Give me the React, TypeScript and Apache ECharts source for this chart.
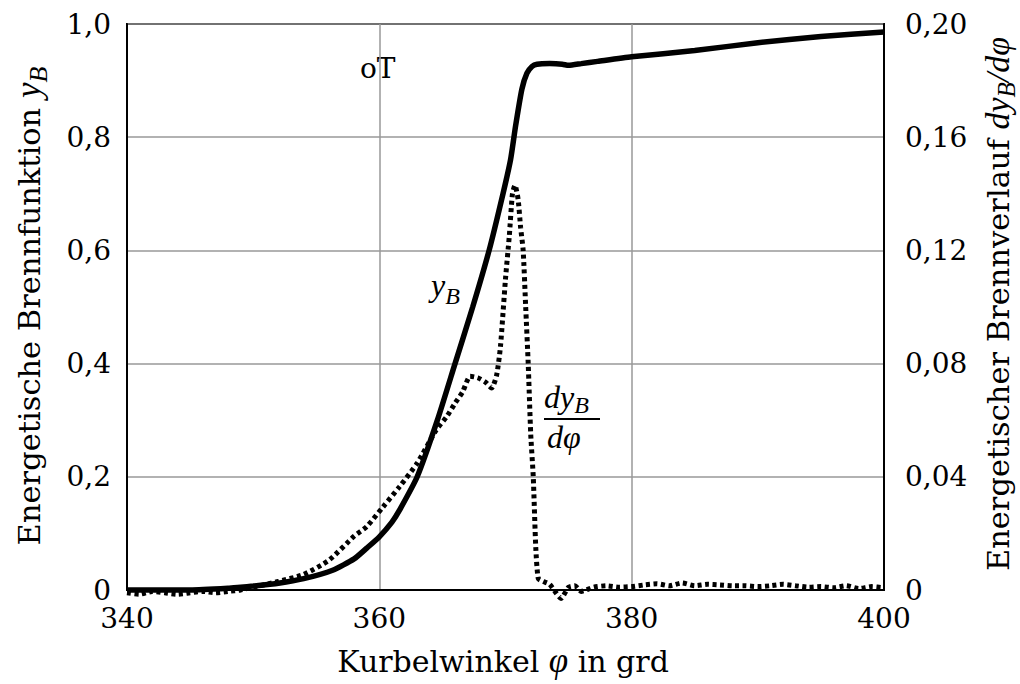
import React, { useEffect, useRef } from "react";
import * as echarts from "echarts";

// Energetische Brennfunktion y_B (left axis)
const phiB = [340, 345, 348, 349, 350, 352, 354, 356.3, 358, 359, 360, 361, 361.6, 363, 364.6, 366, 367.4, 368.7, 369.8, 370.4, 370.8, 371.3, 371.7, 372.1, 372.5, 373.5, 374.5, 375, 376, 377.3, 380, 385, 390, 395, 400];
const yB = [0.0, 0.0, 0.003, 0.005, 0.007, 0.012, 0.02, 0.035, 0.055, 0.074, 0.094, 0.12, 0.141, 0.2, 0.3, 0.4, 0.5, 0.6, 0.7, 0.76, 0.82, 0.885, 0.913, 0.925, 0.929, 0.93, 0.929, 0.927, 0.93, 0.934, 0.942, 0.953, 0.967, 0.978, 0.986];

// Energetischer Brennverlauf dy_B/dphi (right axis)
const phiD = [340, 341, 342, 343, 344, 345, 346, 347, 348, 349, 350, 352, 354, 356, 358, 359, 360.3, 361.6, 363, 364.5, 365.3, 366, 366.6, 367.2, 367.8, 368.4, 368.9, 369.3, 369.6, 370.0, 370.3, 370.55, 370.75, 371.0, 371.2, 371.4, 371.6, 371.8, 372.0, 372.2, 372.4, 372.6, 373, 373.5, 374, 374.4, 375, 375.5, 376, 377, 378, 379, 380, 381, 382, 383, 384, 385, 386, 387, 388, 389, 390, 391, 392, 393, 394, 395, 396, 397, 398, 399, 400];
const dyB = [-0.001, -0.0015, -0.0005, -0.001, -0.0015, -0.001, -0.0005, -0.001, -0.0005, 0.0, 0.001, 0.003, 0.0055, 0.0105, 0.019, 0.0224, 0.0294, 0.0365, 0.0448, 0.0565, 0.061, 0.066, 0.07, 0.0755, 0.075, 0.0735, 0.0714, 0.076, 0.086, 0.11, 0.125, 0.14, 0.143, 0.138, 0.128, 0.12, 0.1, 0.08, 0.055, 0.04, 0.015, 0.004, 0.003, 0.002, -0.001, -0.003, 0.001, 0.0015, -0.0005, 0.001, 0.0015, 0.001, 0.0012, 0.0018, 0.0022, 0.0015, 0.0025, 0.0015, 0.002, 0.0018, 0.0015, 0.0015, 0.0012, 0.0015, 0.002, 0.0015, 0.001, 0.0012, 0.0008, 0.0015, 0.0005, 0.0012, 0.0008];

const xMin = 340, xMax = 400, xStep = 20;
const yLeftMin = 0, yLeftMax = 1, yLeftStep = 0.2;
const yRightMin = 0, yRightMax = 0.2, yRightStep = 0.04;

const FONT = "DejaVu Serif";
const MATH = "Liberation Serif";

type Piece = { t: string; fam: string; size: number; italic?: boolean; dy?: number };

let measureCtx: CanvasRenderingContext2D | null = null;
function fontStr(p: Piece) {
  return `${p.italic ? "italic " : ""}${p.size}px "${p.fam}"`;
}
function measure(p: Piece) {
  if (!measureCtx) measureCtx = document.createElement("canvas").getContext("2d");
  if (!measureCtx) return p.t.length * p.size * 0.55;
  measureCtx.font = fontStr(p);
  return measureCtx.measureText(p.t).width;
}

// A line of mixed text, centred at (cx, cy), optionally rotated.
function textLine(pieces: Piece[], cx: number, cy: number, rotation = 0, anchor: "center" | "left" = "center") {
  const widths = pieces.map(measure);
  const total = widths.reduce((a, b) => a + b, 0);
  let off = anchor === "center" ? -total / 2 : 0;
  const children = pieces.map((p, k) => {
    const el = {
      type: "text",
      x: off,
      y: p.dy || 0,
      style: {
        text: p.t,
        fontFamily: p.fam,
        fontSize: p.size,
        fontStyle: p.italic ? "italic" : "normal",
        fill: "#000",
        textAlign: "left",
        textVerticalAlign: "middle",
        align: "left",
        verticalAlign: "middle",
      },
    };
    off += widths[k];
    return el;
  });
  return { type: "group", x: cx, y: cy, rotation, children };
}

export default function App() {
  const ref = useRef<HTMLDivElement>(null);
  useEffect(() => {
    if (!ref.current) return;
    const chart = echarts.init(ref.current, undefined, { renderer: "svg" });
    const NS = 30.5;
    const leftName = textLine(
      [
        { t: "Energetische Brennfunktion ", fam: FONT, size: NS },
        { t: "y", fam: MATH, size: 35, italic: true, dy: -1 },
        { t: "B", fam: MATH, size: 26, italic: true, dy: 9 },
      ],
      29, 306, Math.PI / 2
    );
    const rightName = textLine(
      [
        { t: "Energetischer Brennverlauf ", fam: FONT, size: NS },
        { t: "dy", fam: MATH, size: 34, italic: true, dy: -1 },
        { t: "B", fam: MATH, size: 25, italic: true, dy: 8 },
        { t: "/dφ", fam: MATH, size: 34, italic: true, dy: -1 },
      ],
      998, 304, Math.PI / 2
    );
    const xName = textLine(
      [
        { t: "Kurbelwinkel ", fam: FONT, size: 30 },
        { t: "φ", fam: MATH, size: 35, italic: true, dy: -1 },
        { t: " in grd", fam: FONT, size: 30 },
      ],
      503, 661, 0
    );
    const yBLabel = textLine(
      [
        { t: "y", fam: MATH, size: 32, italic: true },
        { t: "B", fam: MATH, size: 24, italic: true, dy: 11 },
      ],
      431, 285, 0, "left"
    );
    const dyLabel = textLine(
      [
        { t: "dy", fam: MATH, size: 32, italic: true },
        { t: "B", fam: MATH, size: 24, italic: true, dy: 8 },
      ],
      544, 397, 0, "left"
    );
    const dphiLabel = textLine([{ t: "dφ", fam: MATH, size: 32, italic: true }], 547, 437, 0, "left");

    chart.setOption({
      animation: false,
      backgroundColor: "#fff",
      textStyle: { fontFamily: FONT, color: "#000" },
      grid: { left: 127, right: 136, top: 24, bottom: 94, show: true, borderColor: "#000", borderWidth: 2 },
      xAxis: {
        type: "value",
        min: xMin,
        max: xMax,
        interval: xStep,
        axisLine: { lineStyle: { color: "#000", width: 2 } },
        axisTick: { show: false },
        axisLabel: { fontFamily: FONT, fontSize: 28, color: "#000", margin: 14 },
        splitLine: { lineStyle: { color: "#999", width: 1.5 } },
      },
      yAxis: [
        {
          type: "value",
          min: yLeftMin,
          max: yLeftMax,
          interval: yLeftStep,
          position: "left",
          axisLine: { show: true, lineStyle: { color: "#000", width: 2 } },
          axisTick: { show: false },
          axisLabel: {
            fontFamily: FONT,
            fontSize: 28,
            color: "#000",
            margin: 16,
            formatter: (v: number) => (v === 0 ? "0" : v.toFixed(1).replace(".", ",")),
          },
          splitLine: { lineStyle: { color: "#999", width: 1.5 } },
        },
        {
          type: "value",
          min: yRightMin,
          max: yRightMax,
          interval: yRightStep,
          position: "right",
          axisLine: { show: true, lineStyle: { color: "#000", width: 2 } },
          axisTick: { show: false },
          axisLabel: {
            fontFamily: FONT,
            fontSize: 28,
            color: "#000",
            margin: 21,
            formatter: (v: number) => (v === 0 ? "0" : v.toFixed(2).replace(".", ",")),
          },
          splitLine: { show: false },
        },
      ],
      series: [
        {
          type: "line",
          yAxisIndex: 0,
          data: phiB.map((p, k) => [p, yB[k]]),
          showSymbol: false,
          smooth: 0.2,
          clip: false,
          lineStyle: { color: "#000", width: 5.5 },
          z: 3,
        },
        {
          type: "line",
          yAxisIndex: 1,
          data: phiD.map((p, k) => [p, dyB[k]]),
          showSymbol: false,
          smooth: 0.2,
          clip: false,
          lineStyle: { color: "#000", width: 5, type: [4, 3.5] },
          z: 4,
        },
      ],
      graphic: [
        {
          type: "text",
          left: 359,
          top: 52,
          style: {
            text: "oT",
            fontFamily: FONT,
            fontSize: 28,
            fill: "#000",
            backgroundColor: "#fff",
            padding: [2, 1, 2, 1],
          },
        },
        leftName,
        rightName,
        xName,
        yBLabel,
        dyLabel,
        {
          type: "line",
          shape: { x1: 544, y1: 419, x2: 600, y2: 419 },
          style: { stroke: "#000", lineWidth: 2 },
        },
        dphiLabel,
      ],
    });
    return () => chart.dispose();
  }, []);
  return <div ref={ref} style={{ width: 1020, height: 684, position: "absolute", left: 0, top: 0 }} />;
}
